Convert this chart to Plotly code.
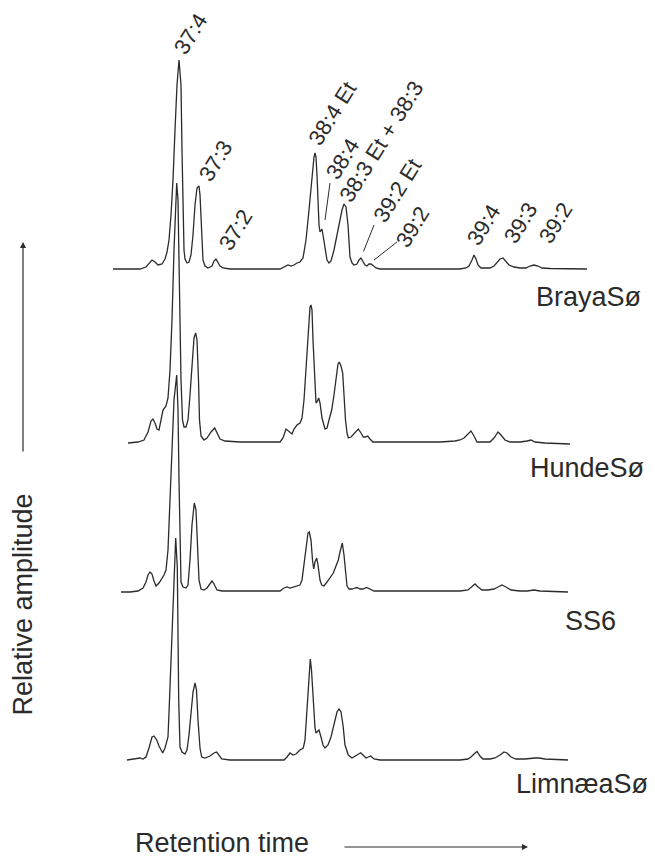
import plotly.graph_objects as go

# ---------------- data (retention time in arbitrary units, relative amplitude) -------------
samples = ["BrayaSø", "HundeSø", "SS6", "LimnæaSø"]

braya_rt = [113,140,146,150,152,155,158,162,165,167,169,171,173,175,177,179,181,182,183,184,
            185,187,189,191,193,195,197,198,199,200,201,202,203,205,208,212,214,216,218,220,
            223,230,280,285,288,291,294,297,300,303,306,309,312,314,315,316,317,318,319,320,
            321,322,323,325,327,329,331,334,337,340,342,344,345,346,348,349,350,352,354,357,
            359,361,363,365,367,369,371,373,376,380,460,466,469,472,474,476,478,481,484,490,
            494,497,500,503,506,509,514,520,526,530,534,538,542,550,587]
braya_amp = [0,0,2,7,9,7,4,5,10,17,29,54,89,139,184,209,184,119,49,19,
             10,6,7,14,34,64,81,82,83,74,49,24,9,3,1,3,8,10,7,3,
             1,0,0,2,4,3,4,6,7,11,29,59,94,112,116,112,94,64,44,37,
             38,40,34,19,9,6,8,19,34,49,59,65,64,62,44,24,12,6,4,5,
             9,11,8,4,3,5,5,3,1,0,0,1,3,9,14,10,4,1,1,1,
             3,6,10,11,8,4,2,1,1,3,4,3,1,0.5,0]

hunde_rt = [128,138,144,148,151,153,155,157,159,161,163,166,168,170,172,174,175.5,176.7,178,179.5,
            181,182.5,184,186,188,190,192,194,195.7,197,198.5,199.5,201,204,207,211,214.7,217,220,225,
            240,280,283,286,289,292,294,297,300,302,304,306,308,310,311,312,313,314.5,316,317,
            318.7,320,322,325,327,329,331.7,334,336,338,339.3,341,342.7,344,345.5,347,348.3,351,355,358.3,
            361,363.3,365.5,367.7,370,373,380,440,455,460,464,467,471,474,477,482,490,494,498,501,
            505,510,520,527,531,535,545,570]
hunde_amp = [0,1,3,11,22,24,20,14,13,23,33,37,45,73,123,193,243,260,243,153,
             63,23,16,16,23,48,83,105,110,103,63,23,7,3,5,11,15,10,4,2,
             1,1,5,14,11,9,14,18,20,25,43,73,113,136,138,133,103,63,40,41,
             45,40,25,14,15,23,33,48,65,79,81,77,70,48,23,10,5,6,10,14,
             10,6,6,7,4,1,1,1,2,3,5,8,12,7,1,1,1,5,11,8,
             3,1,1,2,3,1,0,-1]

ss6_rt = [121,130,138,143,146,148,150,152,154,156,159,162,164,166,168,170,172,174,176.7,178,
          179,180,181,183,186,188,190,192,194.3,196,197.5,199,201,204,207,210,212,214,217,222,
          240,280,284,287,290,293,296,300,302,304,306,308,309.3,311,312.5,313.7,315,316.7,318,320,
          321.7,324,327,330,333.3,336,338.3,340,342.3,344,345.5,347,349,352,355,357,360,363,366.7,370,
          374,380,460,468,472,475,478,482,488,494,498,502,506,511,520,527,534,540,568]
ss6_amp = [0,0,1,4,10,17,20,18,11,6,9,14,17,22,42,92,142,192,217,182,
           112,32,10,5,4,7,32,67,89,82,47,12,3,2,4,9,11,8,2,1,
           1,1,4,5,4,5,6,7,12,27,47,59,60,52,32,23,30,34,27,12,
           7,6,10,14,19,26,32,40,49,37,17,6,3,3,4,4.5,3,3,4.5,3,
           1,1,1,2,5,8,5,2,2,3,5,7,5,2,1,1,2,1,0]

limnaea_rt = [127,135,140,143,146,149,152,154,156.7,159,162.7,165,168,169.5,171,173,175.7,177.3,178.7,180,
              182,185,187,189,191,193,195,196.5,198,200,201.7,205,210,214,216.7,219,221.7,230,284,
              287,290,293,296,300,303.3,305,307,309,310.3,311.5,313,315,316,317.5,319,321,323,325,328,
              331,333.3,335,337,339,341,343,345,348.3,352,357,360.7,364,366,370.7,374,380,460,468,471,
              474,477,480,483,490,495,500,504,507,511,516,525,535,539,545,568]
limnaea_amp = [0,1,2,1,3,12,23,24,20,14,7,12,23,60,100,160,222,193,60,13,
               8,6,10,25,45,68,77,70,40,12,3,2,4,7,8,5,1,0,0,
               3,7,5,6,10,12,20,50,85,101,90,60,32,27,29,30,23,15,12,15,
               23,33,40,48,51,48,35,15,5,2,5,7.3,4,2,4,1,0,0,1,3,
               6,8.5,4,1,1,2,5,8,7,3,1,1,2,2,1,0]

peak_labels = ["37:4", "37:3", "37:2", "38:4 Et", "38:4", "38:3 Et + 38:3",
               "39:2 Et", "39:2", "39:4", "39:3", "39:2"]

# ---------------- layout constants -------------
# the page body has an 8px margin, so the figure is 8px smaller than the window
W, H = 647, 851
X0 = 8
INK = "#2b2b2b"
FONT = "Liberation Sans, Arial, Helvetica, sans-serif"
offsets = [590, 416, 267, 99]          # vertical stacking of traces
series = [(braya_rt, braya_amp), (hunde_rt, hunde_amp),
          (ss6_rt, ss6_amp), (limnaea_rt, limnaea_amp)]
name_pos = [(588, 562), (587, 391), (590, 238), (582, 75)]
label_pos = [(190, 825), (215, 698), (235, 629), (332, 746), (342, 700), (381, 718),
             (397, 669), (412, 632), (483, 634), (520, 636), (555, 636)]
leaders = [((330, 676), (325, 639)), ((374, 634), (363.5, 607.5)), ((397, 617), (374, 599))]

fig = go.Figure()
for (rt, amp), off in zip(series, offsets):
    fig.add_trace(go.Scatter(x=rt, y=[a + off for a in amp], mode="lines",
                             line=dict(color=INK, width=1.3), hoverinfo="skip",
                             showlegend=False))

ann = []
for txt, (x, y) in zip(peak_labels, label_pos):
    ann.append(dict(x=x, y=y, text=txt, showarrow=False, textangle=-58,
                    xanchor="center", yanchor="middle",
                    font=dict(family=FONT, size=22, color=INK)))
for txt, (x, y) in zip(samples, name_pos):
    ann.append(dict(x=x, y=y, text=txt, showarrow=False, xanchor="center", yanchor="middle",
                    font=dict(family=FONT, size=27, color=INK)))
# axis titles
ann.append(dict(x=22.5, y=254, text="Relative amplitude", textangle=-90, showarrow=False,
                xanchor="center", yanchor="middle", font=dict(family=FONT, size=27, color=INK)))
ann.append(dict(x=222, y=16, text="Retention time", showarrow=False,
                xanchor="center", yanchor="middle", font=dict(family=FONT, size=27, color=INK)))
# axis arrows
ann.append(dict(x=23, y=617, ax=23, ay=406, xref="x", yref="y", axref="x", ayref="y",
                text="", showarrow=True, arrowhead=2, arrowsize=1, arrowwidth=1.2, arrowcolor=INK))
ann.append(dict(x=528, y=12, ax=343, ay=12, xref="x", yref="y", axref="x", ayref="y",
                text="", showarrow=True, arrowhead=2, arrowsize=1, arrowwidth=1.2, arrowcolor=INK))

shapes = [dict(type="line", x0=a[0], y0=a[1], x1=b[0], y1=b[1],
               line=dict(color=INK, width=1)) for a, b in leaders]

fig.update_layout(width=W, height=H, margin=dict(l=0, r=0, t=0, b=0),
                  paper_bgcolor="white", plot_bgcolor="white",
                  annotations=ann, shapes=shapes,
                  xaxis=dict(range=[X0, X0 + W], visible=False, fixedrange=True),
                  yaxis=dict(range=[0, H], visible=False, fixedrange=True))
fig.write_html("out.html")
